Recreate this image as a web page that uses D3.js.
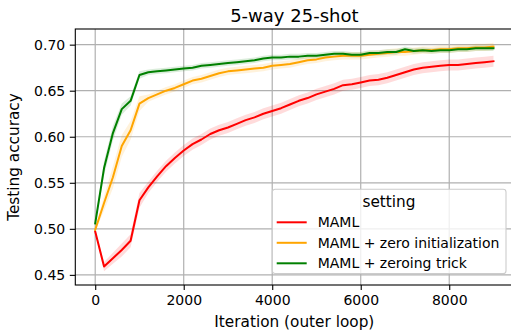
<!DOCTYPE html>
<html>
<head>
<meta charset="utf-8">
<script src="https://cdnjs.cloudflare.com/ajax/libs/d3/7.8.5/d3.min.js"></script>
<style>
    body { margin: 0; background: #fff; }
    svg { display: block; font-family: "DejaVu Sans", sans-serif; }
</style>
</head>
<body>
<div id="chart"></div>
<script>
// iterations, every 200 outer steps
var iterations = d3.range(0, 9001, 200);

var mamlAcc = [0.497, 0.459, 0.468, 0.477, 0.487, 0.531, 0.545, 0.557, 0.568, 0.577,
    0.585, 0.592, 0.597, 0.603, 0.607, 0.610, 0.614, 0.618, 0.621, 0.625,
    0.628, 0.631, 0.635, 0.639, 0.642, 0.646, 0.649, 0.652, 0.656, 0.657,
    0.659, 0.661, 0.662, 0.664, 0.667, 0.670, 0.673, 0.675, 0.676, 0.677,
    0.678, 0.678, 0.679, 0.680, 0.681, 0.682];
var zeroInitAcc = [0.499, 0.528, 0.556, 0.590, 0.607, 0.636, 0.642, 0.646, 0.650, 0.653,
    0.657, 0.661, 0.663, 0.666, 0.669, 0.671, 0.672, 0.673, 0.674, 0.675,
    0.677, 0.678, 0.679, 0.681, 0.683, 0.684, 0.686, 0.687, 0.688, 0.688,
    0.688, 0.689, 0.690, 0.691, 0.692, 0.692, 0.693, 0.694, 0.694, 0.695,
    0.695, 0.696, 0.696, 0.697, 0.697, 0.698];
var zeroingAcc = [0.506, 0.566, 0.604, 0.630, 0.639, 0.667, 0.670, 0.671, 0.672, 0.673,
    0.674, 0.675, 0.677, 0.678, 0.679, 0.680, 0.681, 0.682, 0.683, 0.685,
    0.686, 0.686, 0.687, 0.687, 0.688, 0.688, 0.689, 0.690, 0.690, 0.689,
    0.689, 0.691, 0.691, 0.692, 0.692, 0.695, 0.693, 0.694, 0.693, 0.694,
    0.694, 0.695, 0.695, 0.696, 0.696, 0.696];

// half width of the shaded band, first few points then the rest
var mamlSpread = [0.002, 0.005, 0.006, 0.007, 0.007, 0.008];
var zeroInitSpread = [0.002, 0.008, 0.012, 0.012, 0.010, 0.008];
var zeroingSpread = [0.003, 0.008, 0.008, 0.006, 0.005, 0.004];
var restSpread = [0.006, 0.004, 0.003];

var seriesNames = ['MAML', 'MAML + zero initialization', 'MAML + zeroing trick'];
var seriesColors = ['#ff0000', '#ffa500', '#008000'];

var xTicks = [0, 2000, 4000, 6000, 8000];
var yTicks = [0.45, 0.50, 0.55, 0.60, 0.65, 0.70];

var svgWidth = 511;
var svgHeight = 332;

var svg = d3.select('#chart')
    .append('svg')
    .attr('width', svgWidth)
    .attr('height', svgHeight);

var x = d3.scaleLinear().domain([-450, 9450]).range([75.3, 513.4]);
var y = d3.scaleLinear().domain([0.439, 0.717]).range([285, 29]);

var plotTop = y.range()[1], plotBottom = y.range()[0];
var plotLeft = x.range()[0], plotRight = x.range()[1];

var allSeries = [
    {name: seriesNames[0], color: seriesColors[0], acc: mamlAcc, spread: mamlSpread, rest: restSpread[0]},
    {name: seriesNames[1], color: seriesColors[1], acc: zeroInitAcc, spread: zeroInitSpread, rest: restSpread[1]},
    {name: seriesNames[2], color: seriesColors[2], acc: zeroingAcc, spread: zeroingSpread, rest: restSpread[2]}
];

//grid
svg.append('g')
    .selectAll('line')
    .data(xTicks)
    .enter()
    .append('line')
    .attr('x1', function(d) { return x(d); })
    .attr('x2', function(d) { return x(d); })
    .attr('y1', plotTop)
    .attr('y2', plotBottom)
    .attr('stroke', '#b0b0b0')
    .attr('stroke-width', 1.2);

svg.append('g')
    .selectAll('line')
    .data(yTicks)
    .enter()
    .append('line')
    .attr('x1', plotLeft)
    .attr('x2', plotRight)
    .attr('y1', function(d) { return y(d); })
    .attr('y2', function(d) { return y(d); })
    .attr('stroke', '#b0b0b0')
    .attr('stroke-width', 1.2);

// bands then lines
var area = d3.area()
    .x(function(d) { return x(d.it); })
    .y0(function(d) { return y(d.v - d.s); })
    .y1(function(d) { return y(d.v + d.s); });

var line = d3.line()
    .x(function(d) { return x(d.it); })
    .y(function(d) { return y(d.v); });

function toPoints(s) {
    return iterations.map(function(it, i) {
        var sp = i < s.spread.length ? s.spread[i] : s.rest;
        return {it: it, v: s.acc[i], s: sp};
    });
}

svg.append('g')
    .selectAll('path')
    .data(allSeries)
    .enter()
    .append('path')
    .attr('d', function(d) { return area(toPoints(d)); })
    .attr('fill', function(d) { return d.color; })
    .attr('fill-opacity', 0.14);

svg.append('g')
    .selectAll('path')
    .data(allSeries)
    .enter()
    .append('path')
    .attr('d', function(d) { return line(toPoints(d)); })
    .attr('fill', 'none')
    .attr('stroke', function(d) { return d.color; })
    .attr('stroke-width', 2)
    .attr('stroke-linejoin', 'round')
    .attr('stroke-linecap', 'square');

// axes
var xAxis = d3.axisBottom(x)
    .tickValues(xTicks)
    .tickSize(5)
    .tickPadding(4.9)
    .tickFormat(d3.format('d'));
var yAxis = d3.axisLeft(y)
    .tickValues(yTicks)
    .tickSize(5.5)
    .tickPadding(4.6)
    .tickFormat(d3.format('.2f'));

var gx = svg.append('g')
    .attr('transform', 'translate(0,' + plotBottom + ')')
    .call(xAxis);
var gy = svg.append('g')
    .attr('transform', 'translate(' + plotLeft + ',0)')
    .call(yAxis);

[gx, gy].forEach(function(g) {
    g.select('.domain').remove();
    g.selectAll('.tick line').attr('stroke', '#000').attr('stroke-width', 1.1);
    g.selectAll('.tick text')
        .attr('fill', '#000')
        .style('font-size', '14px')
        .style('font-family', '"DejaVu Sans", sans-serif');
});

// spines
svg.append('rect')
    .attr('x', plotLeft)
    .attr('y', plotTop)
    .attr('width', plotRight - plotLeft)
    .attr('height', plotBottom - plotTop)
    .attr('fill', 'none')
    .attr('stroke', '#000')
    .attr('stroke-width', 1.1);

// titles
svg.append('text')
    .attr('x', (plotLeft + plotRight) / 2)
    .attr('y', 21.5)
    .attr('text-anchor', 'middle')
    .style('font-size', '18px')
    .text('5-way 25-shot');

svg.append('text')
    .attr('x', (plotLeft + plotRight) / 2)
    .attr('y', 327)
    .attr('text-anchor', 'middle')
    .style('font-size', '15.3px')
    .text('Iteration (outer loop)');

svg.append('text')
    .attr('transform', 'translate(19,' + ((plotTop + plotBottom) / 2) + ') rotate(-90)')
    .attr('text-anchor', 'middle')
    .style('font-size', '15.3px')
    .text('Testing accuracy');

// legend
var legend = svg.append('g').attr('transform', 'translate(272.3,189.3)');

legend.append('rect')
    .attr('width', 233.7)
    .attr('height', 84.2)
    .attr('rx', 2.8)
    .attr('fill', '#fff')
    .attr('fill-opacity', 0.8)
    .attr('stroke', '#cccccc')
    .attr('stroke-width', 1.1);

legend.append('text')
    .attr('x', 116.7)
    .attr('y', 17.8)
    .attr('text-anchor', 'middle')
    .style('font-size', '15.3px')
    .text('setting');

var rows = legend.selectAll('g.row')
    .data(allSeries)
    .enter()
    .append('g')
    .attr('class', 'row')
    .attr('transform', function(d, i) { return 'translate(0,' + (33 + i * 20.5) + ')'; });

rows.append('line')
    .attr('x1', 4.4)
    .attr('x2', 34.4)
    .attr('stroke', function(d) { return d.color; })
    .attr('stroke-width', 2);

rows.append('text')
    .attr('x', 45.4)
    .attr('y', 5)
    .style('font-size', '14px')
    .text(function(d) { return d.name; });
</script>
</body>
</html>
